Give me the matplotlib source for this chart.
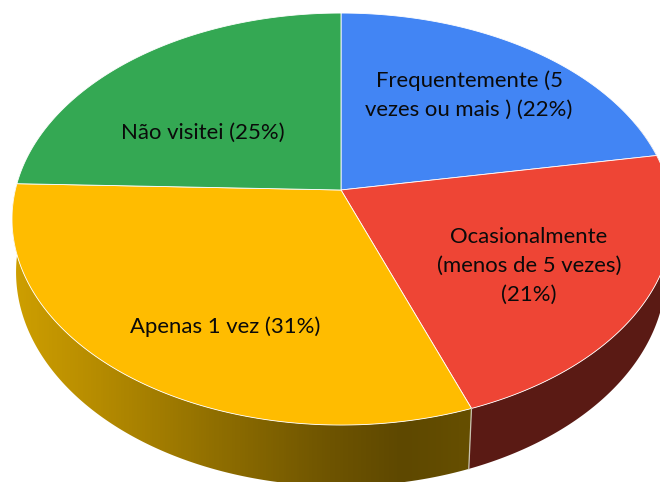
import numpy as np
import matplotlib
matplotlib.use("Agg")
import matplotlib.pyplot as plt
from matplotlib.colors import LinearSegmentedColormap
from matplotlib.patches import Polygon

# Slice shares (the labels round them differently)
categories = ["Frequentemente", "Ocasionalmente", "Apenas 1 vez", "Não visitei"]
shares = [22.2, 22.2, 31.1, 24.5]
labels = [
    "Frequentemente (5\nvezes ou mais ) (22%)",
    "Ocasionalmente\n(menos de 5 vezes)\n(21%)",
    "Apenas 1 vez (31%)",
    "Não visitei (25%)",
]
top_colors = ["#4285F4", "#EE4535", "#FFBC00", "#34A853"]

# Perspective of the pie, in pixels
KEEN = 0.141
CX = 341


def project(theta, cy, a_right, a_left, b):
    # theta is clockwise from 12 o'clock, in degrees
    t = np.radians(theta)
    u, v = np.sin(t), np.cos(t)
    w = 1 + KEEN * v
    a = np.where(u > 0, a_right, a_left)
    return CX + a * u / w, cy - b * v / w


def top_pts(theta):
    return project(theta, 190, 328.5, 325.7, 201.9)


def bottom_pts(theta):
    return project(theta, 241.9, 321.7, 321.7, 209.8)


fig = plt.figure(figsize=(6.6, 4.82), dpi=100)
ax = fig.add_axes([0, 0, 1, 1])

edges = np.concatenate([[0], np.cumsum(shares)]) / sum(shares) * 360

# Sides of the visible slices, red is flat and yellow fades out to the right
yellow_cmap = LinearSegmentedColormap.from_list("side", [
    (0.0, "#D2A200"), (0.15, "#B58B00"), (0.33, "#8F6E00"),
    (0.5, "#6E5400"), (0.61, "#5E4800"), (0.71, "#664F00"), (1.0, "#664F00"),
])


def side_polygon(start, stop):
    th = np.linspace(start, stop, 200)
    x1, y1 = top_pts(th)
    x2, y2 = bottom_pts(th)
    return np.column_stack([np.concatenate([x1, x2[::-1]]), np.concatenate([y1, y2[::-1]])])


red_side = Polygon(side_polygon(edges[1] - 10, edges[2]), facecolor="#5A1A14", edgecolor="none")
ax.add_patch(red_side)

yellow_side = Polygon(side_polygon(edges[2], edges[3]), facecolor="none", edgecolor="none")
ax.add_patch(yellow_side)
im = ax.imshow(np.linspace(0, 1, 660).reshape(1, -1), cmap=yellow_cmap, extent=(0, 660, 482, 0), aspect="auto")
im.set_clip_path(yellow_side)

# Light seam where the two sides meet
x1, y1 = top_pts(edges[2])
x2, y2 = bottom_pts(edges[2])
ax.plot([x1, x2], [y1, y2], color="#C9C4B0", lw=0.9)

# Top faces
for i in range(len(shares)):
    th = np.linspace(edges[i], edges[i + 1], 200)
    x, y = top_pts(th)
    pts = np.column_stack([np.concatenate([[CX], x]), np.concatenate([[190], y])])
    ax.add_patch(Polygon(pts, closed=True, facecolor=top_colors[i], edgecolor="#FFFFFF", linewidth=0.6))

# Labels
label_xy = [(469, 95), (529, 266), (225, 327), (203, 133)]
for text, (lx, ly) in zip(labels, label_xy):
    ax.text(lx, ly, text, ha="center", va="center", family="Lato", fontsize=15.9, color="#0A0A0A", linespacing=1.55)

ax.set_xlim(0, 660)
ax.set_ylim(482, 0)
ax.axis("off")
fig.savefig("out.png", dpi=100)
